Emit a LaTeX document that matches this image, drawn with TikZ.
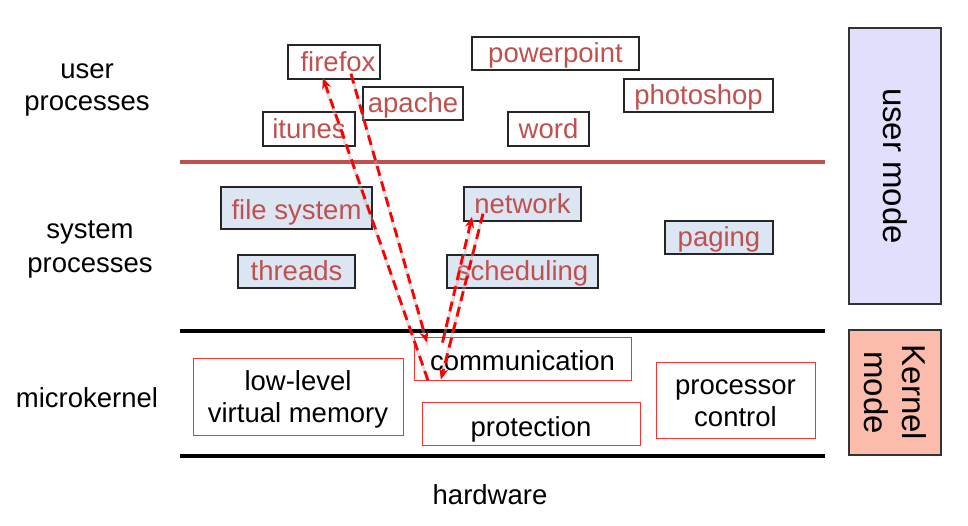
\documentclass[tikz,border=0pt]{standalone}
\usepackage{fontspec}
\setmainfont{Liberation Sans}
\usetikzlibrary{arrows.meta,calc}
\definecolor{ptxt}{HTML}{C0504D}
\definecolor{sysfill}{HTML}{DCE6F2}
\definecolor{umode}{HTML}{E0E0FC}
\definecolor{kmode}{HTML}{FBBCAC}
\definecolor{kred}{HTML}{FF3030}
\tikzset{
  every node/.style={font=\fontsize{27.5}{32}\selectfont, inner sep=0pt},
  procbox/.style={draw=black!85, line width=1.5pt, fill=white, text=ptxt, text height=21pt, text depth=3pt},
  sysbox/.style={procbox, fill=sysfill},
  kbox/.style={draw=kred, line width=1pt, fill=white, text=black, text height=21pt, text depth=3pt},
  ktext/.style={text=black, align=center},
  label/.style={text=black, align=center},
  sep/.style={line width=4pt},
  modebox/.style={draw=black!80, line width=1.2pt, font=\fontsize{33}{38}\selectfont, align=center, rotate=-90},
  dasharrow/.style={draw=red, line width=2.8pt, dash pattern=on 10pt off 6pt, -{Stealth[length=11pt,width=9pt]}},
  shadowline/.style={draw=gray!60, line width=3pt, opacity=0.4, line cap=round},
}
\begin{document}
\begin{tikzpicture}[x=1pt,y=-1pt]
\useasboundingbox (0,0) rectangle (968,525);

% left labels
\node[label] (lup) at (87,90) {user\\processes};
\node[label, font=\fontsize{27.5}{34}\selectfont] (lsp) at (90,249) {system\\processes};
\node[label] (lmk) at (87,398) {microkernel};
\node[label] (lhw) at (490,495) {hardware};

% separators
\draw[sep, draw=ptxt] (180,162) -- (825,162);
\draw[sep] (180,331) -- (825,331);
\draw[sep] (180,456) -- (825,456);

% user processes
\node[procbox, minimum width=92pt, minimum height=34pt] (firefox) at (334,62) {\hspace*{8pt}firefox};
\node[procbox, minimum width=167pt, minimum height=33pt] (powerpoint) at (555.5,53.5) {powerpoint};
\node[procbox, minimum width=100pt, minimum height=33pt] (apache) at (413,103.5) {apache};
\node[procbox, minimum width=149pt, minimum height=33pt] (photoshop) at (698.5,95.5) {photoshop};
\node[procbox, minimum width=92pt, minimum height=34pt] (itunes) at (309,129) {itunes};
\node[procbox, minimum width=81pt, minimum height=34pt] (word) at (548.5,129) {word};

% system processes
\node[sysbox, minimum width=151pt, minimum height=42pt, text height=23pt, text depth=1pt] (filesys) at (296.5,208) {file system};
\node[sysbox, minimum width=117pt, minimum height=34pt] (network) at (522.5,204) {network};
\node[sysbox, minimum width=108pt, minimum height=33pt] (paging) at (719,237.5) {paging};
\node[sysbox, minimum width=117pt, minimum height=33pt] (threads) at (296.5,271.5) {threads};
\node[sysbox, minimum width=151pt, minimum height=33pt] (sched) at (522.5,271.5) {scheduling};

% microkernel
\node[kbox, minimum width=217pt, minimum height=43pt, text height=24pt, text depth=0pt] (comm) at (522.5,358.5) {communication};
\node[kbox, minimum width=210pt, minimum height=77pt] (lowvm) at (298,396.5) {};
\node[ktext] (lowvmt) at ([yshift=-3pt]lowvm.center) {low-level\\virtual memory};
\node[kbox, minimum width=218pt, minimum height=43pt, text height=26pt, text depth=-2pt] (prot) at (531,423.5) {protection};
\node[kbox, minimum width=159pt, minimum height=76pt] (proc) at (735.5,400) {};
\node[ktext] (proct) at ([yshift=-3pt]proc.center) {processor\\control};

% mode boxes
\node[modebox, fill=umode, minimum width=276pt, minimum height=92pt] (umodebox) at (895,166) {user mode};
\node[modebox, fill=kmode, minimum width=125pt, minimum height=92pt] (kmodebox) at (895,392.5) {Kernel\\mode};

% shadows of the message arrows
\begin{scope}[xshift=-3.5pt,yshift=-2pt]
\draw[shadowline] ([xshift=17pt,yshift=6pt]firefox.south) -- ([xshift=-95.5pt,yshift=-8pt]comm.north);
\draw[shadowline] ([xshift=-80pt,yshift=-6pt]comm.north) -- ([xshift=-49pt,yshift=2pt]network.south);
\draw[shadowline] ([xshift=-39.5pt,yshift=8pt]network.south) -- ([xshift=-81.5pt,yshift=3pt]comm.south);
\draw[shadowline] ([xshift=-94.5pt,yshift=0pt]comm.south) -- ([xshift=-11pt,yshift=-1pt]firefox.south);
\end{scope}

% message arrows
\draw[dasharrow] ([xshift=17pt,yshift=6pt]firefox.south) -- ([xshift=-95.5pt,yshift=-6pt]comm.north);
\draw[dasharrow] ([xshift=-80pt,yshift=-6pt]comm.north) -- ([xshift=-50.5pt,yshift=5pt]network.south);
\draw[dasharrow] ([xshift=-39.5pt,yshift=8pt]network.south) -- ([xshift=-81.5pt,yshift=1pt]comm.south);
\draw[dasharrow] ([xshift=-94.5pt,yshift=0pt]comm.south) -- ([xshift=-11pt,yshift=2pt]firefox.south);
\end{tikzpicture}
\end{document}
